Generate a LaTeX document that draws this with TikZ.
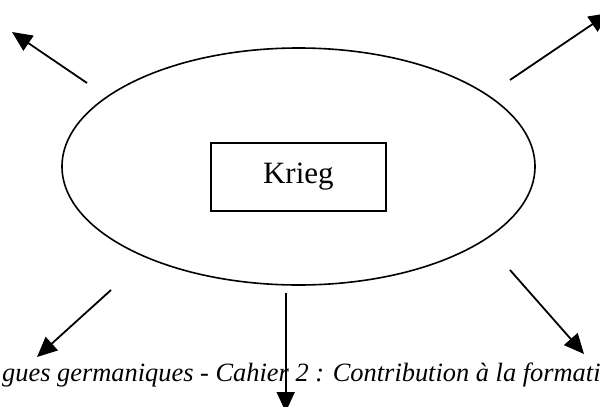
\documentclass[tikz,border=0pt]{standalone}
\usepackage{fontspec}
\setmainfont{Liberation Serif}
\usetikzlibrary{shapes.geometric,arrows.meta}
\tikzset{
  conn/.style={line width=1.8pt, -{Triangle[length=20pt,width=18pt]}},
  oval/.style={draw, ellipse, line width=1.6pt, inner sep=0pt, minimum width=473pt, minimum height=237pt},
  kbox/.style={draw, line width=1.9pt, minimum width=175pt, minimum height=68pt, inner sep=0pt, font=\fontsize{31}{36}\selectfont},
  captext/.style={anchor=base west, inner sep=0pt, font=\fontsize{26.4}{30}\selectfont\itshape}
}
\begin{document}
\begin{tikzpicture}[x=1pt,y=-1pt]
\useasboundingbox[fill=white] (0,0) rectangle (600,407);
\node[oval] (e) at (298.5,166.5) {};
\node[kbox] (k) at (298.4,177) {Krieg};
\node[captext] (t) at (2,381) {gues germaniques - Cahier 2 : Contribution à la formati};
\coordinate (a1s) at (87,83);   \coordinate (a1e) at (12,32);
\coordinate (a2s) at (510,80);  \coordinate (a2e) at (609,13);
\coordinate (a3s) at (111,290); \coordinate (a3e) at (37,357);
\coordinate (a4s) at (285.7,293); \coordinate (a4e) at (285.7,412);
\coordinate (a5s) at (510,270); \coordinate (a5e) at (584,354);
\draw[conn] (a1s) -- (a1e);
\draw[conn] (a2s) -- (a2e);
\draw[conn] (a3s) -- (a3e);
\draw[conn] (a4s) -- (a4e);
\draw[conn] (a5s) -- (a5e);
\end{tikzpicture}
\end{document}
